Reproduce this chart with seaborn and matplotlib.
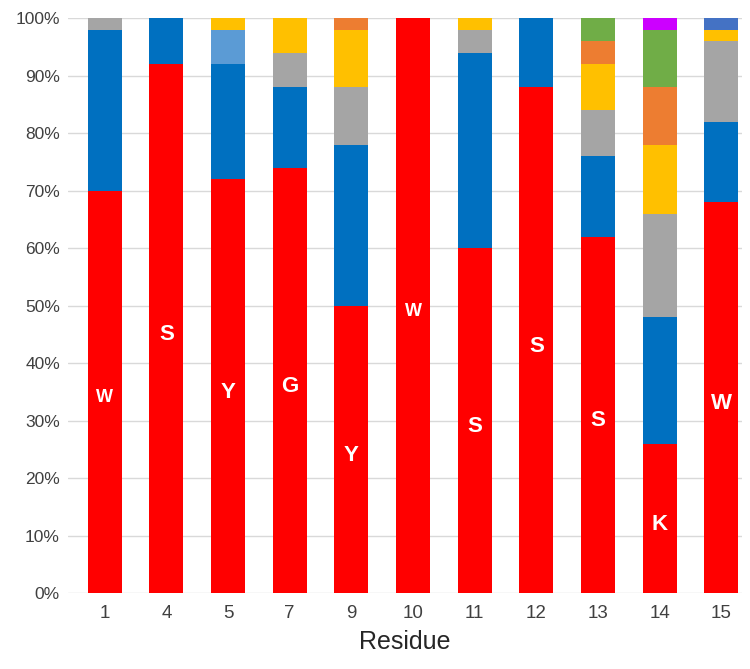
import matplotlib
matplotlib.use("Agg")
import matplotlib.pyplot as plt
import numpy as np
import pandas as pd
import seaborn as sns

residues = ["1", "4", "5", "7", "9", "10", "11", "12", "13", "14", "15"]
letters = ["W", "S", "Y", "G", "Y", "W", "S", "S", "S", "K", "W"]

# percentages per segment, bottom to top
red = [70, 92, 72, 74, 50, 100, 60, 88, 62, 26, 68]
blue = [28, 8, 20, 14, 28, 0, 34, 12, 14, 22, 14]
light_blue = [0, 0, 6, 0, 0, 0, 0, 0, 0, 0, 0]
gray = [2, 0, 0, 6, 10, 0, 4, 0, 8, 18, 14]
yellow = [0, 0, 2, 6, 10, 0, 2, 0, 8, 12, 2]
orange = [0, 0, 0, 0, 2, 0, 0, 0, 4, 10, 0]
green = [0, 0, 0, 0, 0, 0, 0, 0, 4, 10, 0]
purple = [0, 0, 0, 0, 0, 0, 0, 0, 0, 2, 0]
dark_blue = [0, 0, 0, 0, 0, 0, 0, 0, 0, 0, 2]

segments = [
    ("red", red, "#FF0000"),
    ("blue", blue, "#0070C0"),
    ("light_blue", light_blue, "#5B9BD5"),
    ("gray", gray, "#A5A5A5"),
    ("yellow", yellow, "#FFC000"),
    ("orange", orange, "#ED7D31"),
    ("green", green, "#70AD47"),
    ("purple", purple, "#CC00FF"),
    ("dark_blue", dark_blue, "#4472C4"),
]

label_sizes = [13, 16, 16, 16, 16, 13, 16, 16, 16, 16, 16]

sns.set_theme(style="whitegrid")
plt.rcParams["font.family"] = ["Liberation Sans", "DejaVu Sans"]

df = pd.DataFrame({"Residue": residues})
cum = np.zeros(len(residues))
for name, vals, _ in segments:
    cum = cum + np.array(vals)
    df[name] = cum.copy()

fig = plt.figure(figsize=(7.5, 6.69), dpi=100)
ax = fig.add_axes([0.091, 0.113, 0.898, 0.86])

# draw cumulative totals from the top segment down so lower ones overlap
for name, _, color in reversed(segments):
    sns.barplot(data=df, x="Residue", y=name, color=color, width=0.55,
                saturation=1, ax=ax, linewidth=0, order=residues)

for i, (letter, r) in enumerate(zip(letters, red)):
    ax.text(i, r / 2 - 1, letter, ha="center", va="center", color="white",
            fontweight="bold", fontsize=label_sizes[i])

ax.set_ylim(0, 100)
ax.set_xlim(-0.59, 10.33)
ax.set_yticks(range(0, 101, 10))
ax.set_yticklabels([f"{v}%" for v in range(0, 101, 10)])
ax.tick_params(axis="both", length=0, colors="#404040", labelsize=12.5)
ax.tick_params(axis="x", pad=8, labelsize=13.5)
ax.tick_params(axis="y", pad=6)
ax.set_xlabel("Residue", fontsize=18, color="#262626", labelpad=6)
ax.set_ylabel("")
ax.grid(axis="y", color="#D9D9D9", linewidth=1)
ax.grid(axis="x", visible=False)
ax.set_axisbelow(True)
for s in ax.spines.values():
    s.set_visible(False)

fig.savefig("out.png", dpi=100)
